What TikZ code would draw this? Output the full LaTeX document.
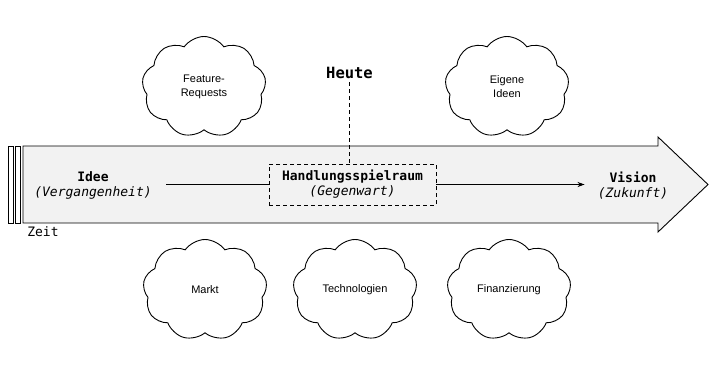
\documentclass[tikz,border=0pt]{standalone}
\usepackage{fontspec}
\setmainfont{Liberation Sans}
\setmonofont{DejaVu Sans Mono}
\usetikzlibrary{shapes.symbols,arrows.meta}
\definecolor{bodyfill}{HTML}{F2F2F2}
\begin{document}
\begin{tikzpicture}[x=1pt,y=-1pt,line width=0.9pt,
  mono/.style={font=\ttfamily\fontsize{13}{15}\selectfont, align=center, inner sep=0pt},
  cloudnode/.style={cloud, draw, cloud puffs=9, cloud puff arc=110, cloud ignores aspect,
    minimum width=124pt, minimum height=101pt, font=\fontsize{11}{14}\selectfont, align=center, inner sep=0pt},
  bar/.style={draw, fill=white, line width=0.9pt},
  dashline/.style={dash pattern=on 4pt off 3pt}
]
\useasboundingbox (0,0) rectangle (715,378);
% time arrow body
\draw[fill=bodyfill] (23,146) -- (658,146) -- (658,137) -- (708,184.5) -- (658,232) -- (658,223) -- (23,223) -- cycle;
\draw[bar] (8,146) rectangle (13,223);
\draw[bar] (15,146) rectangle (20,223);
\node[mono] (zeit) at (43,232) {Zeit};

\node[mono, minimum width=146pt] (idee) at (93,185.5) {\textbf{Idee}\\\textit{(Vergangenheit)}};
\node[mono, draw, dashline, minimum width=167pt, minimum height=41pt] (hs) at (352.5,184.5) {\textbf{Handlungsspielraum}\\\textit{(Gegenwart)}};
\node[mono, minimum width=96pt] (vision) at (633,185.5) {\textbf{Vision}\\\textit{(Zukunft)}};
\node[font=\ttfamily\bfseries\fontsize{15.5}{18}\selectfont, inner sep=3pt] (heute) at (349.5,73) {Heute};

\draw (idee.east |- hs.west) -- (hs.west);
\draw[-{Stealth[length=7pt,width=5pt]}] (hs.east) -- (vision.west |- hs.east);
\draw[dashline] (heute.south) -- (heute.south |- hs.north);

\node[cloudnode] (feat) at (204,87) {Feature-\\Requests};
\node[cloudnode] (eigen) at (507,87) {Eigene\\Ideen};
\node[cloudnode] (markt) at (205,290) {Markt};
\node[cloudnode] (tech) at (355,290) {Technologien};
\node[cloudnode] (fin) at (509,290) {Finanzierung};
\end{tikzpicture}
\end{document}
